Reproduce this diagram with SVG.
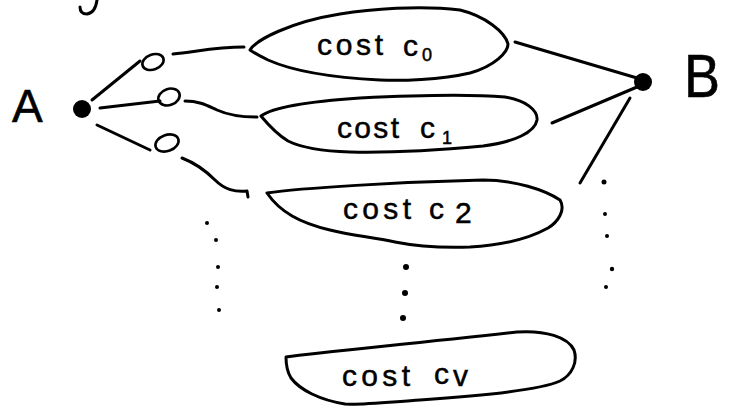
<svg xmlns="http://www.w3.org/2000/svg" width="731" height="416" viewBox="0 0 731 416">
  <style>
    .ink { fill: none; stroke: #000; stroke-width: 3; stroke-linecap: round; stroke-linejoin: round; }
    .thin { fill: none; stroke: #000; stroke-width: 2.6; stroke-linecap: round; }
    .dot { fill: #000; }
    .lbl { font-family: "Liberation Sans", Arial, sans-serif; font-size: 30px; fill: #000; stroke: #000; stroke-width: 0.5; }
    .sub { font-family: "Liberation Sans", Arial, sans-serif; font-size: 18px; fill: #000; stroke: #000; stroke-width: 0.5; }
    .big { font-family: "Liberation Sans", Arial, sans-serif; fill: #000; stroke: #000; stroke-width: 0.6; }
  </style>
  <rect width="731" height="416" fill="#fff"/>

  <!-- stroke fragment at top edge -->
  <path class="ink" d="M97,0 C96,8 93,13 87,14 C82,14 80,11 80,7"/>

  <!-- connectors -->
  <g id="connectors">
    <path class="ink" d="M92,100 L140,61"/>
    <path class="ink" d="M100,108 L160,101"/>
    <path class="ink" d="M97,125 L150,150"/>
    <path class="ink" d="M173,54 C195,52 215,47 244,47"/>
    <path class="ink" d="M185,101 C200,101 208,106 217,110 C228,115 240,117 257,117"/>
    <path class="ink" d="M182,158 C195,163 205,170 215,180 C225,190 235,192 247,191 L248,197"/>
    <path class="ink" d="M515,42 L637,78"/>
    <path class="ink" d="M552,123 L637,87"/>
    <path class="ink" d="M630,98 L580,183"/>
  </g>

  <!-- endpoint A -->
  <g id="node-A">
    <circle class="dot" cx="82" cy="109" r="9"/>
    <text class="big" x="12" y="122" font-size="46">A</text>
  </g>

  <!-- endpoint B -->
  <g id="node-B">
    <circle class="dot" cx="643" cy="82" r="9"/>
    <text class="big" x="684" y="97" font-size="62" textLength="36" lengthAdjust="spacingAndGlyphs">B</text>
  </g>

  <!-- small intermediate rings -->
  <g id="ring-0"><ellipse class="thin" cx="153" cy="62" rx="11" ry="7.5" transform="rotate(-20 153 62)"/></g>
  <g id="ring-1"><ellipse class="thin" cx="169" cy="97" rx="11" ry="8" transform="rotate(-20 169 97)"/></g>
  <g id="ring-2"><ellipse class="thin" cx="167" cy="143" rx="12" ry="8" transform="rotate(-20 167 143)"/></g>

  <!-- cost blobs -->
  <g id="cost-c0">
    <path class="ink" d="M250,50 C256,40 290,22 340,14 C370,9 420,5 460,10 C485,16 505,32 508,44 C508,52 495,66 470,73 C440,80 400,81 380,80 C340,78 295,72 268,60 C260,56 254,53 250,50 Z"/>
    <text class="lbl" x="317" y="55" textLength="66" lengthAdjust="spacing">cost</text>
    <text class="lbl" x="403" y="56">c</text>
    <text class="sub" x="422" y="61">0</text>
  </g>

  <g id="cost-c1">
    <path class="ink" d="M261,116 C272,108 300,102 360,98 C420,95 470,94 505,97 C525,100 538,110 537,120 C535,132 515,142 483,146 C440,150 390,153 350,152 C320,151 300,147 288,141 C275,133 266,122 261,116 Z"/>
    <text class="lbl" x="337" y="138" textLength="62" lengthAdjust="spacing">cost</text>
    <text class="lbl" x="420" y="138">c</text>
    <text class="sub" x="442" y="144">1</text>
  </g>

  <g id="cost-c2">
    <path class="ink" d="M267,193 C300,188 400,182 483,180 C515,180 545,190 560,200 C566,210 558,222 548,228 C530,238 505,245 470,247 C440,248 420,247 395,242 C370,237 350,235 330,230 C300,223 280,212 267,193 Z"/>
    <text class="lbl" x="343" y="219" font-size="32" textLength="68" lengthAdjust="spacing">cost</text>
    <text class="lbl" x="429" y="219" font-size="32">c</text>
    <text class="lbl" x="455" y="223" font-size="26">2</text>
  </g>

  <g id="cost-cv">
    <path class="ink" d="M286,357 C320,352 400,345 517,332 C545,330 568,337 574,350 C578,362 572,375 560,381 C540,390 480,396 420,400 C390,402 360,405 345,404 C320,400 300,390 291,378 C286,370 286,362 286,357 Z"/>
    <text class="lbl" x="342" y="386" font-size="32" textLength="68" lengthAdjust="spacing">cost</text>
    <text class="lbl" x="434" y="384" font-size="32">c</text>
    <text class="lbl" x="453" y="386" font-size="30">v</text>
  </g>

  <!-- continuation dots -->
  <g id="dots-left" class="dot">
    <circle cx="207" cy="223" r="2"/>
    <circle cx="216" cy="240" r="2"/>
    <circle cx="218" cy="267" r="2"/>
    <circle cx="217" cy="287" r="2"/>
    <circle cx="219" cy="310" r="2"/>
  </g>
  <g id="dots-middle" class="dot">
    <circle cx="406" cy="267" r="3"/>
    <circle cx="405" cy="293" r="3"/>
    <circle cx="403" cy="318" r="3"/>
  </g>
  <g id="dots-right" class="dot">
    <circle cx="604" cy="182" r="2.5"/>
    <circle cx="605" cy="214" r="2"/>
    <circle cx="607" cy="236" r="2"/>
    <circle cx="612" cy="269" r="2.2"/>
    <circle cx="606" cy="287" r="2"/>
  </g>
</svg>
